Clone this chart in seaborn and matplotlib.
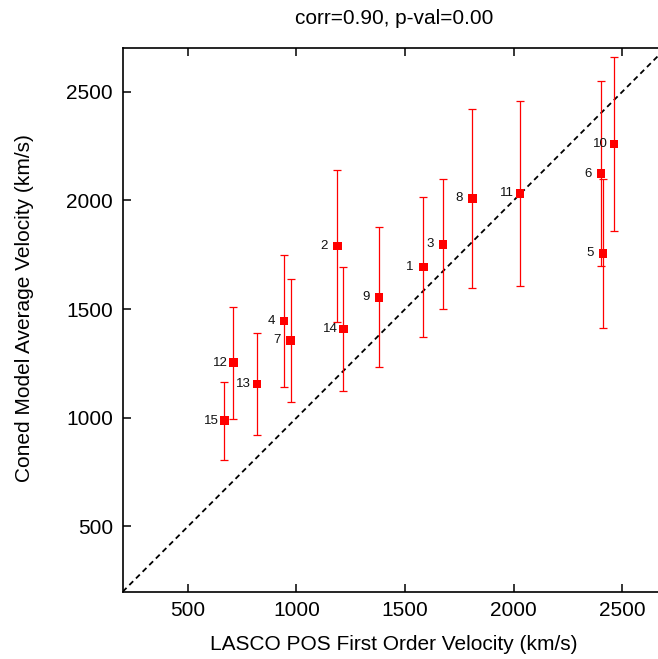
"""
plot.py
=======
LASCO plane-of-sky velocity vs. cone-model average velocity, with 1:1 line.
"""

import numpy as np
import pandas as pd
import matplotlib
matplotlib.use("Agg")
import matplotlib.pyplot as plt
import seaborn as sns

# ── data ───────────────────────────────────────────────────────────────────
event_ids  = [1, 2, 3, 4, 5, 6, 7, 8, 9, 10, 11, 12, 13, 14, 15]
lasco_vel  = [1584, 1188, 1675, 943, 2411, 2402, 973, 1810, 1380, 2462,
              2029, 709, 818, 1216, 668]
coned_vel  = [1694, 1790, 1799, 1445, 1756, 2123, 1357, 2009, 1554, 2260,
              2032, 1254, 1156, 1409, 986]
coned_err  = [322, 350, 298, 305, 343, 425, 283, 414, 322, 401,
              427, 258, 233, 286, 180]

ticks      = [500, 1000, 1500, 2000, 2500]
axis_range = [200, 2700]
title_txt  = "corr=0.90, p-val=0.00"

RED = "#ff0000"

sns.set_style("ticks")
plt.rcParams["font.family"] = ["Liberation Sans", "DejaVu Sans"]
plt.rcParams.update({
    "text.color": "black", "axes.labelcolor": "black",
    "xtick.color": "black", "ytick.color": "black",
    "axes.edgecolor": "black",
})

df = pd.DataFrame({"id": event_ids, "lasco": lasco_vel,
                   "coned": coned_vel, "err": coned_err})

fig = plt.figure(figsize=(6.58, 6.59), dpi=100)
# axes run a little past the right edge, as in the cropped original
ax = fig.add_axes([122.7 / 658, 67.3 / 659, 543 / 658, 543.4 / 659])

# 1:1 reference line
ax.plot(axis_range, axis_range, color="black", ls=(0, (3, 2.2)), lw=1.3, zorder=1)

ax.errorbar(df["lasco"], df["coned"], yerr=df["err"], fmt="none",
            ecolor=RED, elinewidth=0.9, capsize=3, capthick=0.9, zorder=2)
sns.scatterplot(data=df, x="lasco", y="coned", marker="s", s=40,
                color=RED, edgecolor="none", linewidth=0, ax=ax, zorder=3)

for _, row in df.iterrows():
    ax.annotate(str(row["id"]), (row["lasco"], row["coned"]),
                xytext=(-9.5, 0), textcoords="offset points",
                ha="center", va="center", fontsize=9.5, color="#111111")

ax.set_xlim(axis_range)
ax.set_ylim(axis_range)
ax.set_xticks(ticks)
ax.set_yticks(ticks)
ax.tick_params(direction="in", length=6, width=1.1, labelsize=15,
               top=True, right=True, pad=7)
for sp in ax.spines.values():
    sp.set_linewidth(1.2)
    sp.set_visible(True)

ax.set_xlabel("LASCO POS First Order Velocity (km/s)", fontsize=15)
ax.set_ylabel("Coned Model Average Velocity (km/s)", fontsize=15)
ax.xaxis.set_label_coords(0.5, (591.7 - 644) / 543.4)
ax.xaxis.label.set_va("center")
ax.yaxis.set_label_coords((24 - 122.7) / 543, (591.7 - 308.4) / 543.4)
ax.yaxis.label.set_va("center")

# title sits on a baseline ~24 px below the top of the image
ax.set_title(title_txt, fontsize=15, y=(591.7 - 24) / 543.4, va="baseline", pad=0)

fig.savefig("out.png", dpi=100)
